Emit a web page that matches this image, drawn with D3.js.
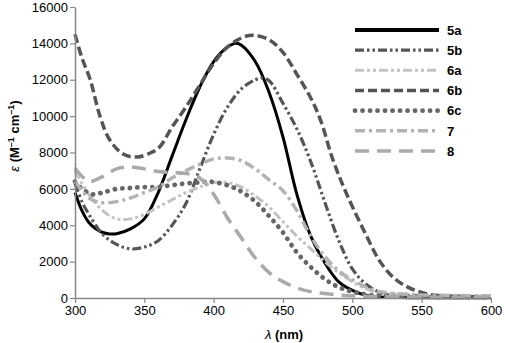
<!DOCTYPE html>
<html>
<head>
<meta charset="utf-8">
<script src="https://cdn.jsdelivr.net/npm/d3@7"></script>
<style>
  body { margin: 0; background: #fff; }
  text { font-family: "Liberation Sans", Arial, sans-serif; }
</style>
</head>
<body>
<svg id="chart" width="505" height="343"></svg>
<script>
// wavelength (nm) / epsilon (M-1 cm-1)
const wl5a = [300, 305, 310, 315, 320, 325, 330, 340, 350, 360, 370, 380, 390, 400, 410, 416, 420, 430, 440, 450, 460, 470, 480, 490, 500, 510, 520, 540, 570, 600];
const eps5a = [5800, 4800, 4150, 3800, 3600, 3520, 3530, 3800, 4350, 5800, 7800, 9800, 11600, 13000, 13800, 14000, 13900, 13000, 11300, 8850, 5700, 3400, 1950, 900, 420, 150, 50, 20, 10, 10];

const wl5b = [300, 305, 310, 320, 330, 340, 350, 360, 370, 380, 390, 400, 410, 420, 430, 435, 440, 450, 460, 470, 480, 490, 500, 510, 520, 530, 550, 600];
const eps5b = [6300, 5300, 4600, 3500, 2950, 2700, 2800, 3150, 4000, 5200, 7100, 9000, 10500, 11500, 12000, 12100, 11950, 10700, 9300, 7500, 5300, 3200, 1600, 750, 300, 120, 40, 20];

const wl6a = [300, 305, 310, 320, 330, 340, 350, 360, 370, 380, 390, 400, 410, 420, 430, 440, 450, 460, 470, 480, 490, 500, 510, 520, 540, 560, 600];
const eps6a = [7000, 6300, 5700, 4800, 4350, 4350, 4600, 5000, 5400, 5800, 6100, 6350, 6350, 6100, 5600, 5000, 4200, 3400, 2700, 2000, 1400, 900, 500, 300, 180, 150, 120];

const wl6b = [300, 305, 311, 318, 325, 335, 345, 355, 361, 370, 380, 390, 400, 410, 420, 428, 440, 450, 460, 470, 477, 486, 496, 510, 520, 530, 540, 550, 560, 580, 600];
const eps6b = [14500, 13200, 12000, 10000, 8700, 7900, 7750, 8000, 8300, 9400, 10500, 11700, 12900, 13800, 14300, 14450, 14200, 13500, 12300, 11000, 9800, 7600, 5700, 3450, 2000, 1100, 600, 300, 150, 80, 50];

const wl6c = [300, 305, 313, 320, 330, 340, 350, 360, 370, 380, 390, 397, 410, 420, 430, 440, 450, 460, 470, 480, 490, 500, 510, 520, 540, 600];
const eps6c = [6400, 6000, 5700, 5800, 6000, 6050, 6100, 6100, 6200, 6300, 6350, 6400, 6200, 5850, 5300, 4500, 3600, 2500, 1700, 1050, 600, 350, 200, 120, 80, 50];

const wl7 = [300, 305, 310, 318, 330, 340, 350, 360, 370, 380, 390, 400, 410, 420, 430, 440, 450, 460, 470, 480, 490, 500, 510, 520, 540, 560, 600];
const eps7 = [6400, 5900, 5500, 5250, 5300, 5500, 5800, 6100, 6600, 7000, 7350, 7650, 7700, 7550, 7100, 6500, 5900, 4800, 3400, 2300, 1500, 1000, 600, 350, 200, 150, 120];

const wl8 = [300, 305, 310, 318, 330, 340, 350, 360, 370, 380, 390, 400, 410, 420, 430, 440, 450, 460, 470, 480, 490, 500, 520, 550, 600];
const eps8 = [7150, 6700, 6400, 6600, 7100, 7200, 7100, 6950, 6900, 6850, 6600, 5700, 4400, 3300, 2200, 1400, 900, 550, 350, 250, 170, 120, 80, 50, 50];

const seriesNames = ["5a", "5b", "6a", "6b", "6c", "7", "8"];
const xTicks = [300, 350, 400, 450, 500, 550, 600];
const yTicks = [0, 2000, 4000, 6000, 8000, 10000, 12000, 14000, 16000];

const series = [
  {name: "5a", x: wl5a, y: eps5a, color: "#000", w: 3, dash: null, cap: "butt"},
  {name: "5b", x: wl5b, y: eps5b, color: "#555", w: 3.2, dash: "9,3,2.5,3,2.5,3", cap: "butt"},
  {name: "6a", x: wl6a, y: eps6a, color: "#c2c2c2", w: 3, dash: "9,3,3,3,3,3", cap: "butt"},
  {name: "6b", x: wl6b, y: eps6b, color: "#555", w: 3.5, dash: "9,4", cap: "butt"},
  {name: "6c", x: wl6c, y: eps6c, color: "#666", w: 4.8, dash: "0.1,7.4", cap: "round"},
  {name: "7", x: wl7, y: eps7, color: "#b3b3b3", w: 3.5, dash: "10,4,3,4", cap: "butt"},
  {name: "8", x: wl8, y: eps8, color: "#aaa", w: 3.5, dash: "14,8", cap: "butt"}
];

const svg = d3.select("#chart");
svg.append("rect").attr("width", 505).attr("height", 343).attr("fill", "#fff");

let x = d3.scaleLinear().domain([300, 600]).range([75, 491]);
let y = d3.scaleLinear().domain([0, 16000]).range([298, 7]);

// curves
let line = d3.line()
  .x(d => x(d[0]))
  .y(d => y(Math.max(0, d[1])))
  .curve(d3.curveCatmullRom.alpha(0.5));

let plot = svg.append("g");
series.forEach(function(s) {
  let pts = s.x.map((v, i) => [v, s.y[i]]);
  plot.append("path")
    .attr("d", line(pts))
    .attr("fill", "none")
    .attr("stroke", s.color)
    .attr("stroke-width", s.w)
    .attr("stroke-linecap", s.cap)
    .attr("stroke-dasharray", s.dash);
});

// axes
let xAxis = svg.append("g")
  .attr("transform", "translate(0,298)")
  .call(d3.axisBottom(x).tickValues(xTicks).tickSize(5).tickSizeOuter(0).tickFormat(d3.format("d")));
let yAxis = svg.append("g")
  .attr("transform", "translate(75,0)")
  .call(d3.axisLeft(y).tickValues(yTicks).tickSize(5).tickSizeOuter(0).tickFormat(d3.format("d")));

[xAxis, yAxis].forEach(function(a) {
  a.select(".domain").attr("stroke", "#888").attr("stroke-width", 1.5);
  a.selectAll(".tick line").attr("stroke", "#888").attr("stroke-width", 1.2);
  a.selectAll(".tick text")
    .attr("fill", "#000")
    .style("font-size", "13px")
    .style("font-family", "'Liberation Sans', Arial, sans-serif");
});
xAxis.selectAll(".tick text").attr("dy", "0.95em").attr("y", 5);
yAxis.selectAll(".tick text").attr("x", -7);

// axis titles
let xt = svg.append("text")
  .attr("x", 284).attr("y", 339)
  .attr("text-anchor", "middle")
  .style("font-size", "13px");
xt.append("tspan").style("font-style", "italic").text("λ ");
xt.append("tspan").style("font-weight", "bold").text("(nm)");

let yt = svg.append("text")
  .attr("transform", "translate(19,136) rotate(-90)")
  .attr("text-anchor", "middle")
  .style("font-size", "13px");
yt.append("tspan").style("font-style", "italic").text("ε ");
yt.append("tspan").style("font-weight", "bold").text("(M");
yt.append("tspan").style("font-weight", "bold").style("font-size", "9px").attr("dy", -5).text("–1");
yt.append("tspan").style("font-weight", "bold").attr("dy", 5).text(" cm");
yt.append("tspan").style("font-weight", "bold").style("font-size", "9px").attr("dy", -5).text("–1");
yt.append("tspan").style("font-weight", "bold").attr("dy", 5).text(")");

// legend
let ly = d3.scalePoint().domain(seriesNames).range([30, 151]);
let legend = svg.append("g").selectAll("g")
  .data(series)
  .enter()
  .append("g")
  .attr("transform", d => "translate(0," + ly(d.name) + ")");
legend.append("line")
  .attr("x1", 355).attr("x2", 439)
  .attr("stroke", d => d.color)
  .attr("stroke-width", d => d.name == "5a" ? 4 : d.w)
  .attr("stroke-linecap", d => d.cap)
  .attr("stroke-dasharray", d => d.dash);
legend.append("text")
  .attr("x", 447).attr("dy", "0.36em")
  .style("font-size", "13px")
  .style("font-weight", "bold")
  .text(d => d.name);
</script>
</body>
</html>
